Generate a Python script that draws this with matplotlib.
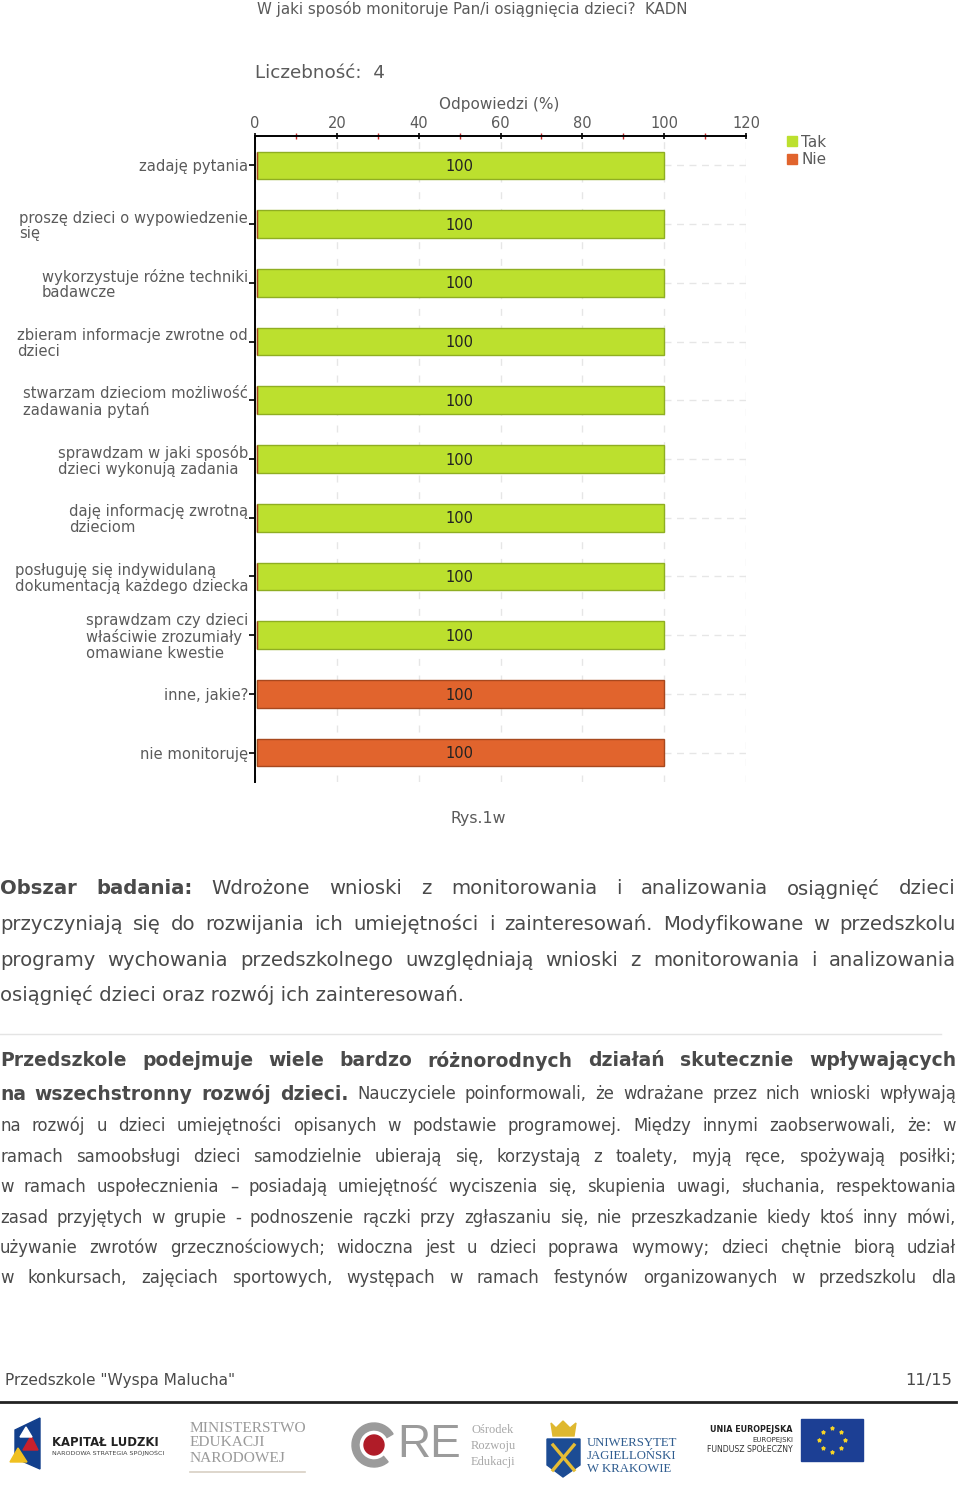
import matplotlib
matplotlib.use("Agg")
from matplotlib import pyplot as plt
from matplotlib.patches import Rectangle, Polygon, Circle, Wedge
from matplotlib.lines import Line2D

categories = ["zadaję pytania", "proszę dzieci o wypowiedzenie\nsię",
              "wykorzystuje różne techniki\nbadawcze", "zbieram informacje zwrotne od\ndzieci",
              "stwarzam dzieciom możliwość\nzadawania pytań", "sprawdzam w jaki sposób\ndzieci wykonują zadania",
              "daję informację zwrotną\ndzieciom", "posługuję się indywidulaną\ndokumentacją każdego dziecka",
              "sprawdzam czy dzieci\nwłaściwie zrozumiały\nomawiane kwestie", "inne, jakie?", "nie monitoruję"]
tak = [100, 100, 100, 100, 100, 100, 100, 100, 100, 0, 0]
nie = [0, 0, 0, 0, 0, 0, 0, 0, 0, 100, 100]
major_ticks = [0, 20, 40, 60, 80, 100, 120]
minor_ticks = [10, 30, 50, 70, 90, 110]

title = "W jaki sposób monitoruje Pan/i osiągnięcia dzieci?  KADN"
count_label = "Liczebność:  4"
caption = "Rys.1w"

R = "normal"
B = "bold"
para1 = [
    [("Obszar badania:", B), ("Wdrożone wnioski z monitorowania i analizowania osiągnięć dzieci", R)],
    [("przyczyniają się do rozwijania ich umiejętności i zainteresowań. Modyfikowane w przedszkolu", R)],
    [("programy wychowania przedszkolnego uwzględniają wnioski z monitorowania i analizowania", R)],
]
para1_last = "osiągnięć dzieci oraz rozwój ich zainteresowań."
para2 = [
    (1061, [("Przedszkole podejmuje wiele bardzo różnorodnych działań skutecznie wpływających", B)]),
    (1094, [("na wszechstronny rozwój dzieci.", B), ("Nauczyciele poinformowali, że wdrażane przez nich wnioski wpływają", R)]),
    (1126, [("na rozwój u dzieci umiejętności opisanych w podstawie programowej. Między innymi zaobserwowali, że: w", R)]),
    (1157, [("ramach samoobsługi dzieci samodzielnie ubierają się, korzystają z toalety, myją ręce, spożywają posiłki;", R)]),
    (1187, [("w ramach uspołecznienia – posiadają umiejętność wyciszenia się, skupienia uwagi, słuchania, respektowania", R)]),
    (1218, [("zasad przyjętych w grupie - podnoszenie rączki przy zgłaszaniu się, nie przeszkadzanie kiedy ktoś inny mówi,", R)]),
    (1248, [("używanie zwrotów grzecznościowych; widoczna jest u dzieci poprawa wymowy; dzieci chętnie biorą udział", R)]),
    (1278, [("w konkursach, zajęciach sportowych, występach w ramach festynów organizowanych w przedszkolu dla", R)]),
]

GRAY = "#5a5a5a"
TEXT = "#4a4a4a"
GREEN = "#bce02e"
ORANGE = "#e1642d"
W, H = 960, 1490

fig = plt.figure(figsize=(W / 100, H / 100), dpi=100)
page = fig.add_axes([0, 0, 1, 1], zorder=0)
page.set_xlim(0, W)
page.set_ylim(H, 0)
page.axis("off")

# chart axes, in figure fractions
ax = fig.add_axes([255 / W, 1 - 782 / H, (746 - 255) / W, (782 - 136) / H], zorder=1)
ax.patch.set_alpha(0)
pos = list(range(len(categories)))
ax.barh(pos, [v - 0.6 if v else 0 for v in tak], left=0.6, height=0.47, color=GREEN, edgecolor="#8fae22", lw=1, zorder=3, label="Tak")
ax.barh(pos, [v - 0.6 if v else 0 for v in nie], left=0.6, height=0.47, color=ORANGE, edgecolor="#a8481e", lw=1, zorder=3, label="Nie")
for i in pos:
    ax.text((tak[i] + nie[i]) / 2, i + 0.02, str(tak[i] + nie[i]), ha="center", va="center", fontsize=10.5, color="#222222", zorder=4)
    ax.plot([tak[i] + nie[i], 120], [i, i], color="#e6e6e6", lw=1, ls=(0, (5, 4)), zorder=1)
ax.set_xlim(0, 120)
ax.set_ylim(10.5, -0.5)
ax.xaxis.tick_top()
ax.set_xticks(major_ticks)
ax.set_xticks(minor_ticks, minor=True)
ax.tick_params(axis="x", which="major", length=5, width=1.2, direction="inout", pad=1, labelsize=10.5, labelcolor=GRAY)
ax.tick_params(axis="x", which="minor", length=4, width=1, direction="inout", color="#c22a2a")
ax.set_yticks(pos)
ax.set_yticklabels(categories, fontsize=10.6, color=GRAY, linespacing=1.05, multialignment="left")
ax.tick_params(axis="y", length=4, width=1.2, pad=1)
ax.xaxis.grid(True, color="#e6e6e6", lw=1, ls=(0, (5, 7)), zorder=0)
ax.set_axisbelow(True)
for s in ["right", "bottom"]:
    ax.spines[s].set_visible(False)
ax.spines["top"].set_linewidth(1.4)
ax.spines["left"].set_linewidth(1.4)

handles = [Line2D([], [], marker="s", ls="", ms=6.5, color=GREEN, label="Tak"),
           Line2D([], [], marker="s", ls="", ms=6.5, color=ORANGE, label="Nie")]
fig.legend(handles=handles, loc="upper left", bbox_to_anchor=(769 / W, 1 - 127 / H), frameon=False,
           fontsize=11, labelcolor=GRAY, handletextpad=-0.4, labelspacing=0.15, borderpad=0)

page.text(257, 9, title, fontsize=10.8, color=GRAY, va="center")
page.text(255, 73, count_label, fontsize=13.2, color=GRAY, va="center")
page.text(499, 104, "Odpowiedzi (%)", fontsize=11, color=GRAY, ha="center", va="center")
page.text(478, 818, caption, fontsize=11.3, color=GRAY, ha="center", va="center")


def justify(y, runs, size, bold_size, x0=0, x1=956):
    # place word by word so both ends of the line touch the margins
    renderer = fig.canvas.get_renderer()
    words = []
    for txt, weight in runs:
        for w in txt.split():
            t = page.text(0, y, w, fontsize=bold_size if weight == B else size, fontweight=weight, color=TEXT, va="center")
            words.append((t, t.get_window_extent(renderer).width))
    free = (x1 - x0) - sum(w for _, w in words)
    gap = free / (len(words) - 1)
    x = x0
    for t, w in words:
        t.set_x(x)
        x += w + gap


for y, runs in zip([889, 924, 960], para1):
    justify(y, runs, 14.1, 14.1)
page.text(0, 995, para1_last, fontsize=14.1, color=TEXT, va="center")
page.plot([0, 941], [1034, 1034], color="#e4e4e4", lw=1)
for y, runs in para2:
    justify(y, runs, 11.9, 13.5)

page.text(5, 1380, 'Przedszkole "Wyspa Malucha"', fontsize=11.05, color=TEXT, va="center")
page.text(952, 1380, "11/15", fontsize=11.8, color=TEXT, va="center", ha="right")
page.plot([0, 956], [1402, 1402], color="#222222", lw=2)

# logos, rough shapes
page.add_patch(Polygon([(15, 1430), (40, 1418), (40, 1469), (15, 1458)], color="#123f8c"))
page.add_patch(Polygon([(10, 1462), (18, 1448), (27, 1462)], color="#f0c020"))
page.add_patch(Polygon([(23, 1450), (31, 1436), (38, 1450)], color="#c8202c"))
page.add_patch(Polygon([(20, 1437), (26, 1427), (32, 1437)], color="white"))
page.text(52, 1443, "KAPITAŁ LUDZKI", fontsize=8.4, fontweight="bold", color="#222222", va="center")
page.text(52, 1453, "NARODOWA STRATEGIA SPÓJNOŚCI", fontsize=4.6, color="#444444", va="center")
for y, t in zip([1428, 1443, 1458], ["MINISTERSTWO", "EDUKACJI", "NARODOWEJ"]):
    page.text(190, y, t, fontsize=11.1, family="Liberation Serif", color="#9a9a9a", va="center")
page.plot([190, 305], [1472, 1472], color="#d8d0c4", lw=1.2)
page.add_patch(Wedge((374, 1445), 22, 50, 330, width=7, color="#9b9b9b"))
page.add_patch(Circle((374, 1445), 10, color="#b01c28"))
page.text(397, 1445, "RE", fontsize=33, color="#9b9b9b", va="center", family="Liberation Sans")
for y, t in zip([1430, 1446, 1462], ["Ośrodek", "Rozwoju", "Edukacji"]):
    page.text(471, y, t, fontsize=9, family="Liberation Serif", color="#a8a8a8", va="center")
page.add_patch(Polygon([(547, 1439), (580, 1439), (580, 1465), (563, 1477), (547, 1465)], color="#1c4c94"))
page.plot([553, 574], [1445, 1470], color="#e5bd35", lw=2.4)
page.plot([574, 553], [1445, 1470], color="#e5bd35", lw=2.4)
page.add_patch(Polygon([(551, 1423), (556, 1428), (563, 1421), (570, 1428), (576, 1423), (574, 1436), (553, 1436)], color="#dfb82f"))
for y, t in zip([1443, 1456, 1469], ["UNIWERSYTET", "JAGIELLOŃSKI", "W KRAKOWIE"]):
    page.text(587, y, t, fontsize=9.2, family="Liberation Serif", color="#2f5c8f", va="center")
page.text(793, 1430, "UNIA EUROPEJSKA", fontsize=5.8, fontweight="bold", color="#222222", ha="right", va="center")
page.text(793, 1440, "EUROPEJSKI", fontsize=5, color="#333333", ha="right", va="center")
page.text(793, 1450, "FUNDUSZ SPOŁECZNY", fontsize=5.6, color="#333333", ha="right", va="center")
page.add_patch(Rectangle((801, 1419), 62, 42, color="#1c3f94"))
page.scatter([832, 841, 845, 841, 832, 823, 819, 823], [1428, 1432, 1440, 1448, 1452, 1448, 1440, 1432], s=6, marker="*", color="#f5d327")

fig.savefig("out.png", dpi=100)
